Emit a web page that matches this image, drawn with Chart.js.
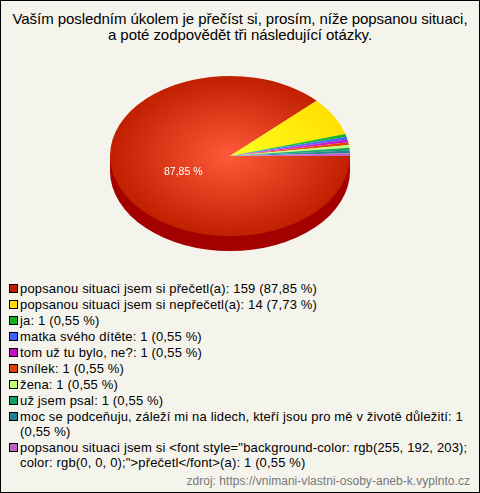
<!DOCTYPE html>
<html lang="cs">
<head>
  <meta charset="UTF-8">
  <title>Vnímání vlastní osoby</title>
  <script src="https://cdn.jsdelivr.net/npm/chart.js"></script>
  <style>
    html, body { margin: 0; padding: 0; }
    #page {
      position: relative; width: 478px; height: 491px; overflow: hidden;
      background: #f5f4ec; border: 1px solid #000;
      font-family: "Liberation Sans", Arial, sans-serif; color: #000;
    }
    #title { position: absolute; left: 0; top: 10px; width: 478px; text-align: center; font-size: 15px; line-height: 16px; letter-spacing: -0.06px; }
    #pie { position: absolute; left: 109px; top: 35px; }
    #legend { position: absolute; left: 8px; top: 280px; width: 462px; font-size: 13px; line-height: 15px; letter-spacing: 0.16px; }
    #legend div { position: relative; padding-left: 11px; margin-bottom: 1px; }
    #legend i { position: absolute; left: 0; top: 3px; width: 7px; height: 7px; border: 1px solid #000; }
    #source { position: absolute; right: 9px; top: 473px; font-size: 12px; line-height: 14px; color: #777; letter-spacing: 0.04px; }
  </style>
</head>
<body>
  <div id="page">
    <div id="title">Vaším posledním úkolem je přečíst si, prosím, níže popsanou situaci,<br>a poté zodpovědět tři následující otázky.</div>
    <canvas id="pie" width="240" height="240"></canvas>
    <div id="legend"></div>
    <div id="source">zdroj: https://vnimani-vlastni-osoby-aneb-k.vyplnto.cz</div>
  </div>

  <script>
    const categories = [
      'popsanou situaci jsem si přečetl(a)',
      'popsanou situaci jsem si nepřečetl(a)',
      'ja',
      'matka svého dítěte',
      'tom už tu bylo, ne?',
      'snílek',
      'žena',
      'už jsem psal',
      'moc se podceňuju, záleží mi na lidech, kteří jsou pro mě v životě důležití',
      'popsanou situaci jsem si <font style="background-color: rgb(255, 192, 203); color: rgb(0, 0, 0);">přečetl</font>(a)'
    ];
    const values = [159, 14, 1, 1, 1, 1, 1, 1, 1, 1];
    const percents = ['87,85', '7,73', '0,55', '0,55', '0,55', '0,55', '0,55', '0,55', '0,55', '0,55'];
    const edgeColors = ['#c02000', '#ffe000', '#10b020', '#4060ff', '#c010c0', '#e04000', '#c0ff70', '#10a060', '#208090', '#c060c0'];
    const coreColors = ['#ff5a3a', '#ffff20', '#30e040', '#6080ff', '#f040f0', '#ff6020', '#e0ff90', '#30c080', '#40a0b0', '#e080e0'];

    const squash = 2 / 3;   // kolac je elipsa
    const depth = 15;

    const legend = document.getElementById('legend');
    categories.forEach((name, i) => {
      const row = document.createElement('div');
      const box = document.createElement('i');
      box.style.background = edgeColors[i];
      row.appendChild(box);
      row.appendChild(document.createTextNode(name + ': ' + values[i] + ' (' + percents[i] + ' %)'));
      legend.appendChild(row);
    });

    const ellipsePie = {
      id: 'ellipsePie',
      beforeDatasetsDraw(chart) {
        const ctx = chart.ctx;
        const arc = chart.getDatasetMeta(0).data[0];
        const x = arc.x, y = arc.y, r = arc.outerRadius;
        ctx.save();
        ctx.fillStyle = '#a50000';
        ctx.beginPath();
        ctx.moveTo(x - r, y);
        ctx.lineTo(x - r, y + depth);
        ctx.ellipse(x, y + depth, r, r * squash, 0, Math.PI, 0, true);
        ctx.lineTo(x + r, y);
        ctx.closePath();
        ctx.fill();
        ctx.restore();
        ctx.save();
        ctx.translate(x, y);
        ctx.scale(1, squash);
        ctx.translate(-x, -y);
      },
      afterDatasetsDraw(chart) {
        const ctx = chart.ctx;
        ctx.restore();
        const arc = chart.getDatasetMeta(0).data[0];
        const mid = (arc.startAngle + arc.endAngle) / 2;
        const dist = arc.outerRadius * 0.42;
        ctx.save();
        ctx.fillStyle = '#fff';
        ctx.font = '10.5px "Liberation Sans", Arial, sans-serif';
        ctx.textAlign = 'center';
        ctx.textBaseline = 'middle';
        ctx.fillText(percents[0] + ' %', arc.x + Math.cos(mid) * dist, arc.y + Math.sin(mid) * dist * squash + 4);
        ctx.restore();
      }
    };

    new Chart(document.getElementById('pie'), {
      type: 'pie',
      data: {
        labels: categories,
        datasets: [{
          data: values,
          borderWidth: 0,
          backgroundColor(c) {
            const area = c.chart.chartArea;
            if (!area) return edgeColors[c.dataIndex];
            const x = (area.left + area.right) / 2, y = (area.top + area.bottom) / 2;
            const g = c.chart.ctx.createRadialGradient(x, y, 0, x, y, (area.right - area.left) / 2);
            g.addColorStop(0, coreColors[c.dataIndex]);
            g.addColorStop(1, edgeColors[c.dataIndex]);
            return g;
          }
        }]
      },
      options: {
        responsive: false,
        animation: false,
        rotation: 90,
        plugins: { legend: { display: false }, tooltip: { enabled: false } }
      },
      plugins: [ellipsePie]
    });
  </script>
</body>
</html>
